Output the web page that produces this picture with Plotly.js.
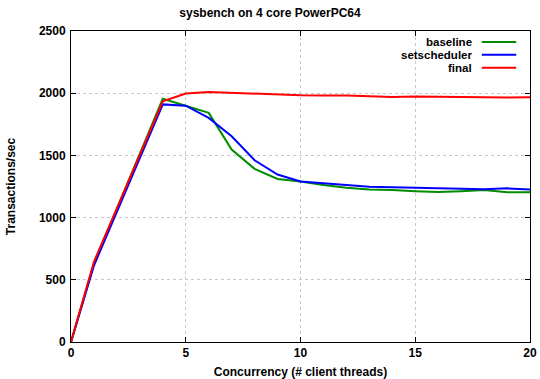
<!DOCTYPE html>
<html>
<head>
<meta charset="utf-8">
<script src="https://cdn.plot.ly/plotly-3.0.1.min.js"></script>
<style>
  html, body { margin: 0; padding: 0; background: #fff; }
  #chart { width: 540px; height: 379px; }
</style>
</head>
<body>
<div id="chart"></div>
<script>
// Client thread counts
const threads = [0, 1, 4, 5, 6, 7, 8, 9, 10, 11, 12, 13, 14, 15, 16, 17, 18, 19, 20];

// Transactions per second for each build
const baseline     = [0, 630, 1955, 1900, 1842, 1547, 1392, 1311, 1290, 1262, 1240, 1225, 1222, 1212, 1205, 1212, 1222, 1204, 1204];
const setscheduler = [0, 615, 1910, 1900, 1801, 1654, 1461, 1346, 1290, 1278, 1262, 1247, 1240, 1239, 1236, 1232, 1228, 1235, 1226];
const finalBuild   = [0, 645, 1935, 1997, 2010, 2002, 1995, 1990, 1983, 1982, 1982, 1975, 1970, 1973, 1970, 1968, 1966, 1966, 1967];

const seriesNames  = ['baseline', 'setscheduler', 'final'];
const seriesColors = ['#008c00', '#0000ff', '#ff0000'];
const seriesValues = [baseline, setscheduler, finalBuild];

const font = { family: 'Liberation Sans, Arial, sans-serif', size: 12, color: '#000' };

const traces = seriesValues.map((ys, i) => ({
  x: threads,
  y: ys,
  type: 'scatter',
  mode: 'lines',
  name: seriesNames[i],
  line: { color: seriesColors[i], width: 2 },
  showlegend: false
}));

// Key in the upper-right corner: right-aligned labels with the line sample after them
const annotations = [];
const shapes = [];
seriesNames.forEach((name, i) => {
  const yp = 0.965 - i * 0.0415;
  annotations.push({
    xref: 'paper', yref: 'paper', x: 0.876, y: yp,
    xanchor: 'right', yanchor: 'middle', showarrow: false, borderpad: 0,
    text: '<b>' + name + '</b>', font: { family: font.family, size: 11.5, color: '#000' }
  });
  shapes.push({
    type: 'line', xref: 'paper', yref: 'paper',
    x0: 0.895, x1: 0.970, y0: yp, y1: yp,
    line: { color: seriesColors[i], width: 2 }
  });
});

const axisCommon = {
  showline: true, linecolor: '#000', linewidth: 1, mirror: 'allticks',
  ticks: 'inside', ticklen: 5, tickcolor: '#000',
  showgrid: true, gridcolor: '#c8c8c8', griddash: 'dot', gridwidth: 1,
  zeroline: false, tickfont: { family: font.family, size: 12, color: '#000', weight: 'bold' }
};

const layout = {
  width: 540, height: 379,
  margin: { l: 71, r: 10, t: 31, b: 37 },
  paper_bgcolor: '#fff', plot_bgcolor: '#fff',
  font: font,
  title: { text: '<b>sysbench on 4 core PowerPC64</b>', x: 0.5, xanchor: 'center', y: 0.966, yanchor: 'middle', font: { family: font.family, size: 12 } },
  xaxis: Object.assign({}, axisCommon, {
    range: [0, 20], tickvals: [0, 5, 10, 15, 20],
    title: { text: '<b>Concurrency (# client threads)</b>', standoff: 8, font: { family: font.family, size: 12 } }
  }),
  yaxis: Object.assign({}, axisCommon, {
    range: [0, 2500], tickvals: [0, 500, 1000, 1500, 2000, 2500],
    ticklabelstandoff: 2,
    title: { text: '<b>Transactions/sec</b>', standoff: 20, font: { family: font.family, size: 12 } }
  }),
  annotations: annotations,
  shapes: shapes
};

Plotly.newPlot('chart', traces, layout, { displayModeBar: false, staticPlot: true });
</script>
</body>
</html>
